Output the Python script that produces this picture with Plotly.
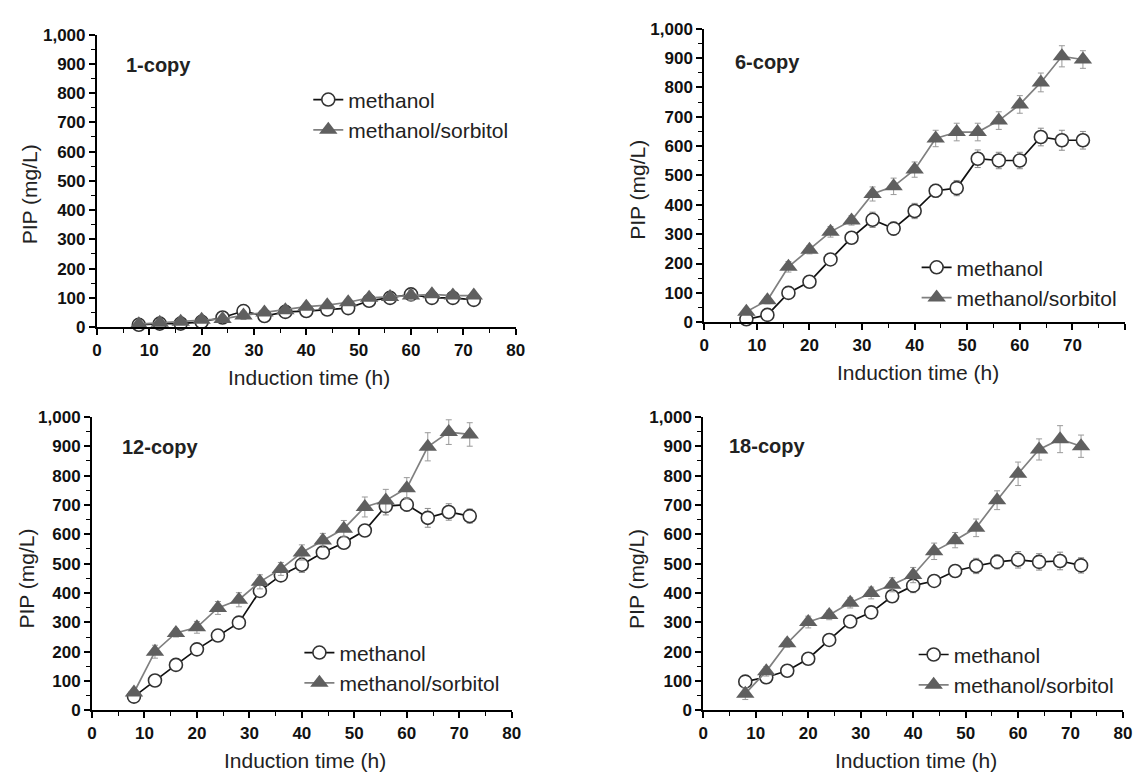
import plotly.graph_objects as go

# page has an 8px body margin; the figure is sized to fit the 1142x784 window
PAD = 8
W, H = 1142 - 2 * PAD, 784 - 2 * PAD

time_h = [8, 12, 16, 20, 24, 28, 32, 36, 40, 44, 48, 52, 56, 60, 64, 68, 72]

copy1_methanol = [8, 12, 12, 18, 33, 55, 38, 52, 55, 60, 65, 90, 100, 112, 100, 100, 93]
copy1_methanol_err = [4, 4, 4, 5, 6, 8, 6, 6, 6, 6, 7, 8, 8, 10, 8, 8, 8]
copy1_sorbitol = [10, 15, 18, 25, 28, 40, 50, 58, 70, 75, 85, 100, 103, 108, 112, 108, 108]
copy1_sorbitol_err = [4, 4, 5, 5, 12, 14, 6, 6, 7, 7, 8, 8, 8, 18, 9, 8, 8]

copy6_methanol = [10, 25, 100, 138, 214, 288, 349, 319, 379, 448, 457, 557, 551, 551, 631, 620, 620]
copy6_methanol_err = [8, 12, 12, 14, 14, 16, 26, 22, 26, 22, 26, 30, 28, 28, 30, 34, 30]
copy6_sorbitol = [36, 75, 189, 247, 308, 347, 437, 463, 520, 626, 648, 648, 687, 742, 817, 906, 895]
copy6_sorbitol_err = [10, 12, 18, 14, 18, 16, 24, 28, 26, 28, 30, 30, 30, 30, 32, 36, 30]

copy12_methanol = [47, 102, 155, 208, 255, 299, 407, 460, 496, 538, 571, 613, 696, 701, 656, 676, 662]
copy12_methanol_err = [8, 10, 12, 12, 12, 12, 16, 14, 26, 16, 14, 14, 30, 22, 32, 28, 24]
copy12_sorbitol = [61, 200, 264, 283, 349, 377, 438, 482, 538, 579, 619, 693, 715, 757, 898, 948, 940]
copy12_sorbitol_err = [10, 22, 14, 20, 22, 24, 24, 22, 26, 24, 28, 34, 38, 36, 48, 42, 40]

copy18_methanol = [98, 113, 135, 176, 240, 303, 334, 389, 425, 441, 475, 492, 506, 513, 506, 509, 494]
copy18_methanol_err = [14, 12, 12, 14, 16, 16, 16, 16, 24, 14, 18, 26, 24, 28, 28, 30, 26]
copy18_sorbitol = [57, 133, 229, 301, 325, 367, 400, 428, 461, 542, 580, 622, 716, 806, 889, 924, 900]
copy18_sorbitol_err = [20, 16, 14, 20, 16, 18, 20, 24, 26, 28, 26, 30, 32, 40, 36, 46, 38]

panel_labels = ["1-copy", "6-copy", "12-copy", "18-copy"]
series_names = ["methanol", "methanol/sorbitol"]
x_ticks = [0, 10, 20, 30, 40, 50, 60, 70, 80]
y_ticks = [0, 100, 200, 300, 400, 500, 600, 700, 800, 900, 1000]

panels = [
    (copy1_methanol, copy1_methanol_err, copy1_sorbitol, copy1_sorbitol_err),
    (copy6_methanol, copy6_methanol_err, copy6_sorbitol, copy6_sorbitol_err),
    (copy12_methanol, copy12_methanol_err, copy12_sorbitol, copy12_sorbitol_err),
    (copy18_methanol, copy18_methanol_err, copy18_sorbitol, copy18_sorbitol_err),
]

# screen-pixel layout of each panel: plot box (left, right, top, bottom)
boxes = [(93, 517, 26, 326), (708, 1134, 20, 321), (88, 513, 418, 719), (707, 1132, 418, 719)]
# legend top-left (screen px)
legend_pos = [(307, 72), (923, 244), (298, 639), (920, 641)]
# axis title centres (screen px)
ytitle_pos = [(25, 190), (640, 185), (22, 584), (640, 584)]
xtitle_pos = [(308, 378), (924, 373), (304, 770), (922, 770)]
label_xy = [(5.1, 897), (5.4, 885), (5.4, 897), (4.5, 900)]


def fx(px):
    return (px - PAD) / W


def fy(py):
    return 1 - (py - PAD) / H


FONT = "Liberation Sans, Arial, sans-serif"

fig = go.Figure()
layout = {}
annotations = []

for i, (m, me, s, se) in enumerate(panels):
    k = "" if i == 0 else str(i + 1)
    xa, ya = "x" + k, "y" + k
    lg = "legend" + k
    fig.add_trace(go.Scatter(
        x=time_h, y=m, name=series_names[0], xaxis=xa, yaxis=ya, legend=lg,
        mode="lines+markers", cliponaxis=False,
        line=dict(color="#111111", width=1.7),
        marker=dict(symbol="circle", size=13, color="white",
                    line=dict(color="#333333", width=1.6)),
        error_y=dict(type="data", array=me, visible=True, color="#8a8a8a",
                     thickness=1, width=3),
    ))
    fig.add_trace(go.Scatter(
        x=time_h, y=s, name=series_names[1], xaxis=xa, yaxis=ya, legend=lg,
        mode="lines+markers", cliponaxis=False,
        line=dict(color="#808080", width=1.7),
        marker=dict(symbol="triangle-up", size=16, color="#5f5f5f",
                    line=dict(color="#5f5f5f", width=0)),
        error_y=dict(type="data", array=se, visible=True, color="#9a9a9a",
                     thickness=1, width=3),
    ))
    L, R, T, B = boxes[i]
    layout["xaxis" + k] = dict(
        domain=[fx(L), fx(R)], range=[0, 80], anchor=ya,
        tickvals=x_ticks, ticks="outside", ticklen=6, tickwidth=1.5,
        tickcolor="black", showline=True, linecolor="black", linewidth=2,
        showgrid=False, zeroline=False,
        tickfont=dict(family=FONT, size=17, color="#111", weight="bold"),
        minor=dict(dtick=5, ticks="outside", ticklen=4, tickwidth=1.2,
                   tickcolor="black", showgrid=False),
    )
    layout["yaxis" + k] = dict(
        domain=[fy(B), fy(T)], range=[0, 1000], anchor=xa,
        tickvals=y_ticks, tickformat=",d", ticks="outside", ticklen=6,
        tickwidth=1.5, tickcolor="black", showline=True, linecolor="black",
        linewidth=2, showgrid=False, zeroline=False,
        tickfont=dict(family=FONT, size=17, color="#111", weight="bold"),
        minor=dict(dtick=50, ticks="outside", ticklen=4, tickwidth=1.2,
                   tickcolor="black", showgrid=False),
    )
    lx, ly = legend_pos[i]
    layout[lg] = dict(
        x=fx(lx), y=fy(ly), xanchor="left", yanchor="top",
        bgcolor="rgba(0,0,0,0)", borderwidth=0, tracegroupgap=0,
        font=dict(family=FONT, size=21, color="#222"),
        itemwidth=30,
    )
    annotations.append(dict(
        text=panel_labels[i], x=label_xy[i][0], y=label_xy[i][1],
        xref=xa, yref=ya, xanchor="left", yanchor="middle", showarrow=False,
        font=dict(family=FONT, size=20, color="#222", weight="bold"),
    ))
    yx, yy = ytitle_pos[i]
    annotations.append(dict(
        text="PIP (mg/L)", x=fx(yx), y=fy(yy), xref="paper", yref="paper",
        xanchor="center", yanchor="middle", textangle=-90, showarrow=False,
        font=dict(family=FONT, size=21, color="#222"),
    ))
    tx, ty = xtitle_pos[i]
    annotations.append(dict(
        text="Induction time (h)", x=fx(tx), y=fy(ty), xref="paper",
        yref="paper", xanchor="center", yanchor="middle", showarrow=False,
        font=dict(family=FONT, size=21, color="#222"),
    ))

fig.update_layout(
    width=W, height=H, margin=dict(l=0, r=0, t=0, b=0),
    paper_bgcolor="white", plot_bgcolor="white",
    annotations=annotations, **layout,
)

fig.write_html("out.html")
